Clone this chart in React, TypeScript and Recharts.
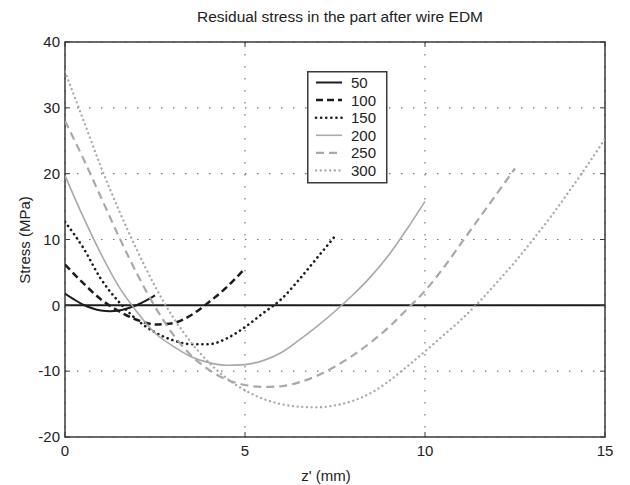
import React from 'react';
import { LineChart, Line, XAxis, YAxis, CartesianGrid, ReferenceLine, ReferenceArea, Legend } from 'recharts';

const FONT = '"Liberation Sans", Arial, Helvetica, sans-serif';

const xTicks = [0, 5, 10, 15];
const yTicks = [-20, -10, 0, 10, 20, 30, 40];

const title = 'Residual stress in the part after wire EDM';
const xLabel = "z' (mm)";
const yLabel = 'Stress (MPa)';

const z50 = [0, 0.25, 0.5, 0.75, 1, 1.25, 1.5, 1.75, 2, 2.25, 2.5];
const s50 = [1.8, 0.9, 0.1, -0.45, -0.8, -0.9, -0.8, -0.45, 0.05, 0.7, 1.5];

const z100 = [0, 0.5, 1, 1.5, 2, 2.5, 3, 3.5, 4, 4.5, 5];
const s100 = [6.2, 3.4, 0.9, -0.9, -2.2, -2.9, -2.7, -1.5, 0.5, 2.8, 5.6];

const z150 = [0, 0.5, 1, 1.5, 2, 2.5, 3, 3.5, 4, 4.5, 5, 5.5, 6, 6.5, 7, 7.5];
const s150 = [12.7, 8.8, 4.0, 0.5, -2.2, -4.1, -5.3, -5.9, -5.9, -5.0, -3.3, -1.2, 0.9, 3.9, 7.2, 10.5];

const z200 = [0, 0.5, 1, 1.5, 2, 2.5, 3, 3.5, 4, 4.5, 5, 5.5, 6, 6.5, 7, 7.5, 8, 8.5, 9, 9.5, 10];
const s200 = [19.7, 13.5, 7.8, 2.8, -1.0, -4.2, -6.2, -7.8, -8.7, -9.1, -9.0, -8.4, -7.2, -5.3, -3.2, -0.9, 1.6, 4.4, 7.7, 11.6, 15.8];

const z250 = [0, 0.5, 1, 1.5, 2, 2.5, 3, 3.5, 4, 4.5, 5, 5.5, 6, 6.5, 7, 7.5, 8, 8.5, 9, 9.5, 10, 10.5, 11, 11.5, 12, 12.5];
const s250 = [28.0, 22.4, 16.4, 10.4, 4.8, -0.2, -4.4, -7.6, -9.8, -11.3, -12.1, -12.4, -12.3, -11.7, -10.7, -9.3, -7.6, -5.6, -3.3, -0.6, 2.2, 5.6, 9.4, 13.2, 17.0, 20.8];

const z300 = [0, 0.5, 1, 1.5, 2, 2.5, 3, 3.5, 4, 4.5, 5, 5.5, 6, 6.5, 7, 7.5, 8, 8.5, 9, 9.5, 10, 10.5, 11, 11.5, 12, 12.5, 13, 13.5, 14, 14.5, 15];
const s300 = [35.5, 28.3, 21.0, 14.4, 8.4, 2.9, -1.8, -5.6, -8.7, -11.1, -12.9, -14.2, -15.0, -15.4, -15.5, -15.2, -14.5, -13.3, -11.5, -9.3, -7.0, -4.6, -2.2, 0.5, 3.5, 6.6, 10.0, 13.5, 17.3, 21.2, 25.3];

const seriesNames = ['50', '100', '150', '200', '250', '300'];

const toRows = (zs: number[], ss: number[]) => zs.map((z, i) => ({ z, stress: ss[i] }));

const DARK = '#1c1c1c';
const GRAY = '#a9a9a9';

const series = [
  { name: seriesNames[0], data: toRows(z50, s50), color: DARK, width: 2, dash: undefined as string | undefined, cap: 'butt' },
  { name: seriesNames[1], data: toRows(z100, s100), color: DARK, width: 2.5, dash: '7 4', cap: 'butt' },
  { name: seriesNames[2], data: toRows(z150, s150), color: DARK, width: 2.6, dash: '0.1 5', cap: 'round' },
  { name: seriesNames[3], data: toRows(z200, s200), color: GRAY, width: 1.6, dash: undefined, cap: 'butt' },
  { name: seriesNames[4], data: toRows(z250, s250), color: GRAY, width: 2.2, dash: '8 5', cap: 'butt' },
  { name: seriesNames[5], data: toRows(z300, s300), color: GRAY, width: 2.3, dash: '0.1 4.6', cap: 'round' },
];

const W = 630;
const H = 485;
const MARGIN = { top: 42, right: 25, left: 8, bottom: 8 };
const Y_AXIS_W = 57;
const X_AXIS_H = 40;
const PLOT_W = W - MARGIN.left - MARGIN.right - Y_AXIS_W;
const PLOT_H = H - MARGIN.top - MARGIN.bottom - X_AXIS_H;
const X_TICK_MARGIN = 8;
const Y_TICK_MARGIN = 5;
const INNER_TICK = 5;
const AXIS_COLOR = '#3a3a3a';

const XTick = (props: any) => {
  const { x, y, payload } = props;
  const axisY = y - X_TICK_MARGIN;
  return (
    <g>
      <line x1={x} y1={axisY} x2={x} y2={axisY - INNER_TICK} stroke={AXIS_COLOR} strokeWidth={1} />
      <line x1={x} y1={axisY - PLOT_H} x2={x} y2={axisY - PLOT_H + INNER_TICK} stroke={AXIS_COLOR} strokeWidth={1} />
      <text x={x} y={y} dy="0.71em" textAnchor="middle" fontSize={15} fontFamily={FONT} fill="#222">
        {payload.value}
      </text>
    </g>
  );
};

const YTick = (props: any) => {
  const { x, y, payload } = props;
  const axisX = x + Y_TICK_MARGIN;
  return (
    <g>
      <line x1={axisX} y1={y} x2={axisX + INNER_TICK} y2={y} stroke={AXIS_COLOR} strokeWidth={1} />
      <line x1={axisX + PLOT_W} y1={y} x2={axisX + PLOT_W - INNER_TICK} y2={y} stroke={AXIS_COLOR} strokeWidth={1} />
      <text x={x} y={y} dy="0.355em" textAnchor="end" fontSize={15} fontFamily={FONT} fill="#222">
        {payload.value}
      </text>
    </g>
  );
};

const LegendBox = () => {
  const bw = 79;
  const bh = 111;
  return (
    <svg width={bw + 2} height={bh + 2} style={{ display: 'block' }}>
      <rect x={0.75} y={0.75} width={bw} height={bh} fill="#fff" stroke={AXIS_COLOR} strokeWidth={1.5} />
      {series.map((s, i) => {
        const cy = 11.5 + i * 17.6;
        return (
          <g key={s.name}>
            <line x1={9} y1={cy} x2={35} y2={cy} stroke={s.color} strokeWidth={s.width} strokeDasharray={s.dash} strokeLinecap={s.cap as any} />
            <text x={44} y={cy} dy="0.36em" fontSize={15} fontFamily={FONT} fill="#222">{s.name}</text>
          </g>
        );
      })}
    </svg>
  );
};

export default function App() {
  return (
    <div style={{ position: 'absolute', left: 0, top: 0, width: W, height: H, background: '#fff' }}>
      <div
        style={{
          position: 'absolute',
          left: 0,
          top: 8,
          width: 680,
          textAlign: 'center',
          fontFamily: FONT,
          fontSize: 15.5,
          color: '#222',
          whiteSpace: 'nowrap',
        }}
      >
        {title}
      </div>
      <LineChart width={W} height={H} margin={MARGIN}>
        <CartesianGrid stroke="#777" strokeDasharray="1.5 10.5" strokeWidth={1.2} />
        <XAxis
          dataKey="z"
          type="number"
          domain={[0, 15]}
          ticks={xTicks}
          allowDataOverflow
          height={X_AXIS_H}
          tickSize={0}
          tickLine={false}
          tickMargin={X_TICK_MARGIN}
          axisLine={false}
          tick={<XTick />}
          interval={0}
          label={(p: any) => (
            <text x={326} y={481} textAnchor="middle" fontSize={15} fontFamily={FONT} fill="#222">
              {xLabel}
            </text>
          )}
        />
        <YAxis
          type="number"
          domain={[-20, 40]}
          ticks={yTicks}
          allowDataOverflow
          width={Y_AXIS_W}
          tickSize={0}
          tickLine={false}
          tickMargin={Y_TICK_MARGIN}
          axisLine={false}
          tick={<YTick />}
          interval={0}
          label={(p: any) => (
            <text x={30} y={240} transform="rotate(-90 30 240)" textAnchor="middle" fontSize={15} fontFamily={FONT} fill="#222">
              {yLabel}
            </text>
          )}
        />
        <ReferenceLine y={0} stroke={DARK} strokeWidth={2} />
        {series.map((s) => (
          <Line
            key={s.name}
            data={s.data}
            dataKey="stress"
            name={s.name}
            type="monotone"
            stroke={s.color}
            strokeWidth={s.width}
            strokeDasharray={s.dash}
            strokeLinecap={s.cap as any}
            dot={false}
            activeDot={false}
            isAnimationActive={false}
          />
        ))}
        <ReferenceArea x1={0} x2={15} y1={-20} y2={40} fill="none" stroke={AXIS_COLOR} strokeWidth={1.5} />
        <Legend
          layout="vertical"
          align="center"
          verticalAlign="middle"
          wrapperStyle={{ left: 307, top: 71, width: 82, height: 114 }}
          content={() => <LegendBox />}
        />
      </LineChart>
    </div>
  );
}
